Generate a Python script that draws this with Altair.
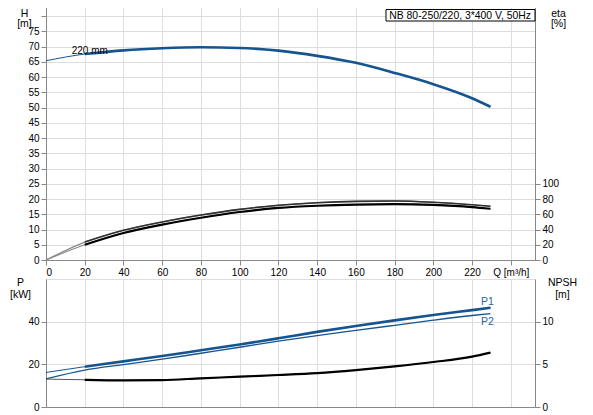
import altair as alt
import pandas as pd

# ---- data ----
Q = [0, 20, 40, 60, 80, 100, 120, 140, 160, 180, 200, 220, 229.5]
H = [65.4, 67.6, 68.8, 69.5, 69.8, 69.6, 68.7, 67.0, 64.7, 61.4, 57.7, 53.1, 50.3]
ETA1 = [0, 23.5, 39, 50, 59, 66.5, 71.8, 75.2, 77, 77.5, 75.8, 72.5, 70.5]
ETA2 = [0, 20, 35.5, 46.5, 55.5, 63, 68.3, 71.2, 72.8, 73.3, 72.3, 69.5, 67.3]
P1 = [16.2, 18.9, 21.4, 23.9, 26.6, 29.3, 32.2, 35.2, 38.0, 40.6, 43.1, 45.4, 46.5]
P2 = [13.2, 17.3, 19.9, 22.4, 25.2, 28.0, 30.9, 33.5, 35.9, 38.3, 40.7, 42.9, 43.8]
NPSH = [3.27, 3.19, 3.12, 3.16, 3.36, 3.55, 3.75, 3.98, 4.33, 4.76, 5.27, 5.9, 6.37]

X_TICKS = list(range(0, 241, 20))
H_TICKS = list(range(0, 81, 5))
ETA_TICKS = [0, 20, 40, 60, 80, 100]
P_TICKS = [0, 20, 40]
NPSH_TICKS = [0, 5, 10]
CURVE_LABEL = "220 mm"
BOX_TITLE = "NB 80-250/220, 3*400 V, 50Hz"

BLUE = "#16548f"
LBLUE = "#2a64a4"
FONT = "Liberation Sans"

top_df = pd.DataFrame({"Q": Q, "H": H, "eta1": ETA1, "eta2": ETA2})
bot_df = pd.DataFrame({"Q": Q, "P1": P1, "P2": P2, "NPSH": NPSH})
box_df = pd.DataFrame({"label": [BOX_TITLE]})

xscale = alt.Scale(domain=[0, 252.5], nice=False, zero=False)
x_top = alt.X("Q:Q", scale=xscale, title=None,
              axis=alt.Axis(values=X_TICKS, grid=True, labelOverlap=False,
                            labelExpr="datum.value == 240 ? 'Q [m³/h]' : datum.label"))
x_bot = alt.X("Q:Q", scale=xscale, title=None,
              axis=alt.Axis(values=X_TICKS, grid=True, labels=False, ticks=False))

def ytitle(lines, tx, ty, lh=12):
    return dict(title=lines, titleAngle=0, titleAlign="center", titleBaseline="top",
                titleX=tx, titleY=ty, titleFontWeight="normal", titleFontSize=10.5,
                titleLineHeight=lh, titleFont=FONT, titleColor="black")

h_scale = alt.Scale(domain=[0, 85], nice=False, zero=False)
eta_scale = alt.Scale(domain=[0, 340], nice=False, zero=False)
y_h = alt.Y("H:Q", scale=h_scale,
            axis=alt.Axis(values=H_TICKS, grid=True, orient="left",
                          labelExpr="datum.value > 75 ? '' : datum.label",
                          **ytitle(["H", "[m]"], -22, 7, 10.5)))
eta_axis = alt.Axis(values=ETA_TICKS, grid=False, orient="right",
                    **ytitle(["eta", "[%]"], 23, 7, 10.5))

base_top = alt.Chart(top_df)
h_thin = base_top.mark_line(color=BLUE, strokeWidth=1, interpolate="monotone").encode(x=x_top, y=y_h)
h_thick = base_top.mark_line(color=BLUE, strokeWidth=2.6, interpolate="monotone").encode(
    x=x_top, y=y_h).transform_filter("datum.Q >= 20")
h_text = base_top.mark_text(fontSize=10, font=FONT, color="black", align="center",
                            baseline="middle", dx=5, dy=-3).encode(
    x=x_top, y=y_h, text=alt.value(CURVE_LABEL)).transform_filter("datum.Q == 20")

e1_thin = base_top.mark_line(color="#8a8a8a", strokeWidth=1.2, interpolate="monotone").encode(
    x=x_top, y=alt.Y("eta1:Q", scale=eta_scale, axis=eta_axis))
e2_thin = base_top.mark_line(color="#8a8a8a", strokeWidth=1.2, interpolate="monotone").encode(
    x=x_top, y=alt.Y("eta2:Q", scale=eta_scale, axis=eta_axis))
e1_thick = base_top.mark_line(color="#303030", strokeWidth=1.6, interpolate="monotone").encode(
    x=x_top, y=alt.Y("eta1:Q", scale=eta_scale, axis=eta_axis)).transform_filter("datum.Q >= 20")
e2_thick = base_top.mark_line(color="black", strokeWidth=2.2, interpolate="monotone").encode(
    x=x_top, y=alt.Y("eta2:Q", scale=eta_scale, axis=eta_axis)).transform_filter("datum.Q >= 20")

box_rect = alt.Chart(box_df).mark_rect(fill="white", stroke="black", strokeWidth=1).encode(
    x=alt.value(340), x2=alt.value(489), y=alt.value(8.5), y2=alt.value(20))
box_text = alt.Chart(box_df).mark_text(fontSize=10.4, font=FONT, color="black", align="right",
                                       baseline="middle").encode(
    x=alt.value(485), y=alt.value(14.5), text="label:N")

left_top = alt.layer(h_thin, h_thick, h_text)
right_top = alt.layer(e1_thin, e2_thin, e1_thick, e2_thick)
top = alt.layer(left_top, right_top, box_rect, box_text).resolve_scale(y="independent").properties(
    width=489, height=259, view=alt.ViewBackground(stroke="transparent"))

p_scale = alt.Scale(domain=[0, 60], nice=False, zero=False)
n_scale = alt.Scale(domain=[0, 15], nice=False, zero=False)
p_axis = alt.Axis(values=P_TICKS, grid=True, orient="left", **ytitle(["P", "[kW]"], -26, -2))
n_axis = alt.Axis(values=NPSH_TICKS, grid=False, orient="right", **ytitle(["NPSH", "[m]"], 27, -2))

base_bot = alt.Chart(bot_df)
p1_thin = base_bot.mark_line(color=BLUE, strokeWidth=1, interpolate="monotone").encode(
    x=x_bot, y=alt.Y("P1:Q", scale=p_scale, axis=p_axis))
p1_thick = base_bot.mark_line(color=BLUE, strokeWidth=2.6, interpolate="monotone").encode(
    x=x_bot, y=alt.Y("P1:Q", scale=p_scale, axis=p_axis)).transform_filter("datum.Q >= 20")
p2_line = base_bot.mark_line(color=BLUE, strokeWidth=1.3, interpolate="monotone").encode(
    x=x_bot, y=alt.Y("P2:Q", scale=p_scale, axis=p_axis))
p1_lab = base_bot.mark_text(fontSize=10.5, font=FONT, color=LBLUE, align="center",
                            baseline="middle", dx=-3, dy=-6).encode(
    x=x_bot, y=alt.Y("P1:Q", scale=p_scale, axis=p_axis), text=alt.value("P1")).transform_filter("datum.Q > 229")
p2_lab = base_bot.mark_text(fontSize=10.5, font=FONT, color=LBLUE, align="center",
                            baseline="middle", dx=-3, dy=8).encode(
    x=x_bot, y=alt.Y("P2:Q", scale=p_scale, axis=p_axis), text=alt.value("P2")).transform_filter("datum.Q > 229")
n_thin = base_bot.mark_line(color="#555555", strokeWidth=1, interpolate="monotone").encode(
    x=x_bot, y=alt.Y("NPSH:Q", scale=n_scale, axis=n_axis))
n_thick = base_bot.mark_line(color="black", strokeWidth=2.2, interpolate="monotone").encode(
    x=x_bot, y=alt.Y("NPSH:Q", scale=n_scale, axis=n_axis)).transform_filter("datum.Q >= 20")

left_bot = alt.layer(p1_thin, p1_thick, p2_line, p1_lab, p2_lab)
right_bot = alt.layer(n_thin, n_thick)
bottom = alt.layer(left_bot, right_bot).resolve_scale(y="independent").properties(width=489, height=128)

chart = alt.vconcat(top, bottom, spacing=19, bounds="flush").properties(
    padding={"left": 1, "top": -8, "right": 5, "bottom": 2}
).configure_view(stroke="black", strokeWidth=1).configure_axis(
    labelFont=FONT, labelFontSize=10, labelColor="black", tickColor="black", domainColor="black",
    tickSize=4, labelPadding=3, gridColor="#c9c9c9", gridWidth=1.3, domainWidth=1
).configure(background="white")

chart.save("out.html", embed_options={"renderer": "svg", "actions": False})
